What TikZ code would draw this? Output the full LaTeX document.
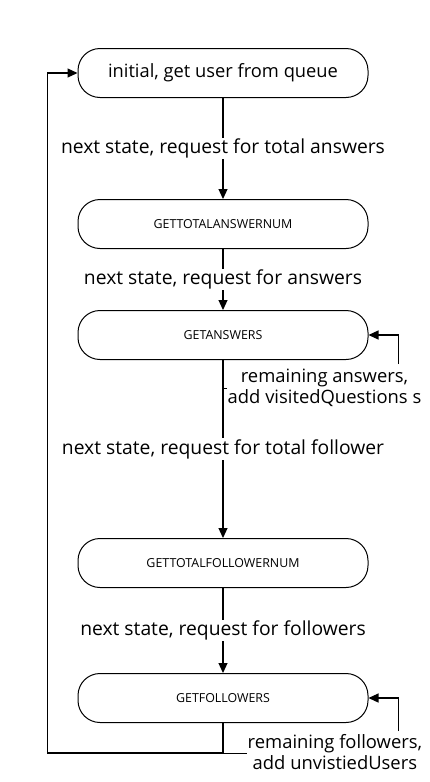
\documentclass[tikz,border=0pt]{standalone}
\usepackage{fontspec}
\setmainfont{Open Sans}
\usetikzlibrary{arrows.meta, positioning, calc}

\tikzset{
  state/.style={draw, line width=1pt, rounded corners=22pt, minimum width=290pt, minimum height=49pt, inner sep=0pt},
  flow/.style={line width=1.2pt, -{Triangle[length=10pt, width=9pt]}},
  edgelabel/.style={fill=white, inner sep=1pt, font=\fontsize{19.3}{21}\selectfont},
  looplabel/.style={edgelabel, inner sep=0.5pt, align=center, anchor=west, font=\fontsize{18.4}{21}\selectfont},
  smalltext/.style={font=\fontsize{12.4}{15}\selectfont}
}

\begin{document}
\begin{tikzpicture}[x=1pt, y=-1pt]
  \useasboundingbox (0,0) rectangle (429,782);

  % states
  \node[state, font=\fontsize{18.3}{22}\selectfont] (init) at (223,73) {initial, get user from queue};
  \node[state, smalltext, below=101pt of init] (totalans) {GETTOTALANSWERNUM};
  \node[state, smalltext, below=61pt of totalans] (answers) {GETANSWERS};
  \node[state, smalltext, below=178pt of answers] (totalfol) {GETTOTALFOLLOWERNUM};
  \node[state, smalltext, below=85pt of totalfol] (followers) {GETFOLLOWERS};

  % main chain
  \draw[flow] (init) -- node[edgelabel] {next state, request for total answers} (totalans);
  \draw[flow] (totalans) -- node[edgelabel] {next state, request for answers} (answers);
  \draw[flow] (answers) -- node[edgelabel] {next state, request for total follower} (totalfol);
  \draw[flow] (totalfol) -- node[edgelabel] {next state, request for followers} (followers);

  % loop on answers
  \coordinate (ansloop) at ($(answers.east)+(30,29)$);
  \draw[flow] (ansloop) |- (answers.east);
  \node[looplabel] (anslabel) at (227,388) {remaining answers,\\add visitedQuestions s};
  \draw[line width=1pt] (anslabel.west) -- (anslabel.west -| answers.south);

  % loop on followers
  \coordinate (folloop) at ($(followers.east)+(30,33)$);
  \draw[flow] (folloop) |- (followers.east);
  \node[looplabel] (follabel) at (247,752) {remaining followers,\\add unvistiedUsers};

  % back to start
  \coordinate (back) at ($(followers.south)+(0,30)$);
  \draw[line width=1pt] (back) -- (back -| follabel.west);
  \draw[flow] (followers.south) -- (back) -| ($(init.west)+(-30,0)$) -- (init.west);
\end{tikzpicture}
\end{document}
